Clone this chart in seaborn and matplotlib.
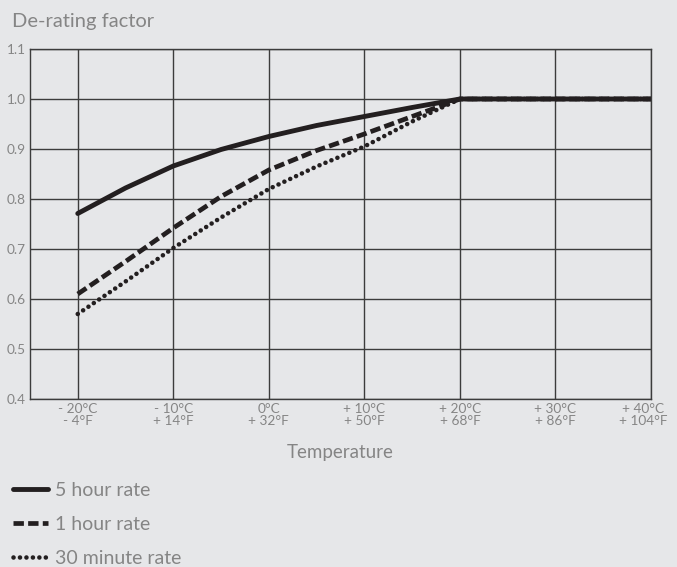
import matplotlib
matplotlib.use("Agg")
import matplotlib.pyplot as plt
import matplotlib.transforms as mtransforms
import seaborn as sns
import pandas as pd

# Data
temps_c = [-20, -15, -10, -5, 0, 5, 10, 15, 20, 30, 40]
rate_5h = [0.771, 0.822, 0.866, 0.899, 0.925, 0.947, 0.965, 0.983, 1.0, 1.0, 1.0]
rate_1h = [0.61, 0.675, 0.742, 0.805, 0.858, 0.897, 0.93, 0.965, 1.0, 1.0, 1.0]
rate_30m = [0.57, 0.635, 0.702, 0.763, 0.82, 0.865, 0.905, 0.955, 1.0, 1.0, 1.0]
series_names = ["5 hour rate", "1 hour rate", "30 minute rate"]
tick_temps = [-20, -10, 0, 10, 20, 30, 40]
tick_labels = ["- 20°C\n- 4°F", "- 10°C\n+ 14°F", "0°C\n+ 32°F", "+ 10°C\n+ 50°F",
               "+ 20°C\n+ 68°F", "+ 30°C\n+ 86°F", "+ 40°C\n+ 104°F"]
y_ticks = [0.4, 0.5, 0.6, 0.7, 0.8, 0.9, 1.0, 1.1]

bg = "#e6e7e9"
txt = "#858585"
ink = "#231f20"

sns.set_theme(style="white")
plt.rcParams["font.family"] = ["Lato", "DejaVu Sans"]

df = pd.DataFrame({
    "Temperature": temps_c * 3,
    "Factor": rate_5h + rate_1h + rate_30m,
    "Rate": [n for n in series_names for _ in temps_c],
})

fig = plt.figure(figsize=(6.77, 5.67), dpi=100, facecolor=bg)
ax = fig.add_axes([0.0443, 0.2963, 0.9173, 0.6173])
ax.set_facecolor(bg)

dashes = {"5 hour rate": "", "1 hour rate": (2.2, 0.9), "30 minute rate": (0.01, 1.4)}
widths = [3.5, 3.4, 3.3]
sns.lineplot(data=df, x="Temperature", y="Factor", hue="Rate", style="Rate",
             palette=[ink] * 3, dashes=dashes, linewidth=3.0, ax=ax, legend=False)
for line, w in zip(ax.lines, widths):
    line.set_solid_capstyle("round")
    line.set_linewidth(w)
ax.lines[2].set_dash_capstyle("round")

ax.set_xlim(-25, 40)
ax.set_ylim(0.4, 1.1)
ax.set_xticks(tick_temps)
ax.set_xticklabels(tick_labels, color=txt, fontsize=9.8, linespacing=1.0)
ax.set_yticks(y_ticks)
ax.set_yticklabels([f"{v:.1f}" for v in y_ticks], color=txt, fontsize=9.8)
ax.tick_params(length=0, pad=3)
# last label sits a little left so it stays inside the figure
last = ax.get_xticklabels()[-1]
last.set_transform(last.get_transform() + mtransforms.ScaledTranslation(-8 / 100, 0, fig.dpi_scale_trans))
ax.grid(True, color="#3c3c3c", linewidth=1.0)
for s in ax.spines.values():
    s.set_color("#3c3c3c")
    s.set_linewidth(1.0)
ax.set_xlabel("Temperature", color=txt, fontsize=13.5, labelpad=12)
ax.set_ylabel("")

fig.text(0.018, 0.962, "De-rating factor", color=txt, fontsize=14.5, va="center", ha="left")

handles = []
for name, w in zip(series_names, widths):
    d = dashes[name]
    if d == "":
        h = plt.Line2D([], [], color=ink, linewidth=w, solid_capstyle="round")
    else:
        h = plt.Line2D([], [], color=ink, linewidth=w, dashes=d,
                       dash_capstyle="round" if d[0] < 0.1 else "butt")
    handles.append(h)
leg = fig.legend(handles, series_names, loc="upper left",
                 frameon=False, fontsize=14, handlelength=1.8, handletextpad=0.35,
                 labelspacing=0.88, borderaxespad=0.0, borderpad=0.0)
leg.set_bbox_to_anchor((0.019, 1 - 482 / 567), transform=fig.transFigure)
for t in leg.get_texts():
    t.set_color(txt)

fig.savefig("out.png", dpi=100, facecolor=bg)
